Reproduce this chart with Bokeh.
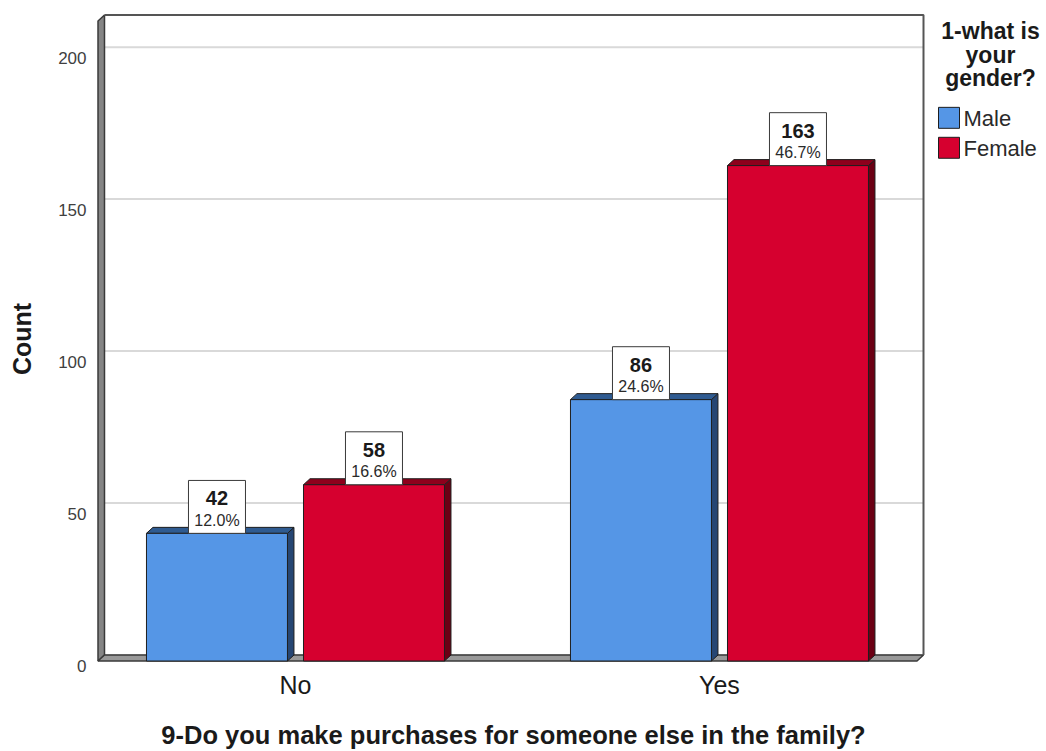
from bokeh.plotting import figure
from bokeh.layouts import row
from bokeh.models import Range1d, LinearAxis, FixedTicker
from bokeh.core.properties import value
from bokeh.embed import file_html
from bokeh.resources import INLINE

# ---- data -------------------------------------------------------------
categories = ["No", "Yes"]
genders = ["Male", "Female"]
male_counts = [42, 86]
female_counts = [58, 163]
y_ticks = [0, 50, 100, 150, 200]

x_title = "9-Do you make purchases for someone else in the family?"
y_title = "Count"
legend_title = ["1-what is", "your", "gender?"]

# ---- layout -----------------------------------------------------------
W, H = 1046, 751
CHART_W = 932                      # chart figure; the legend figure fills the rest
BORDER_L, BORDER_T, BORDER_B = 94, 10, 83
FRAME_W, FRAME_H = CHART_W - BORDER_L, H - BORDER_T - BORDER_B
PX_PER_CAT = 424.0      # pixels between the two category groups
PX_PER_COUNT = 3.044    # pixels per count unit
X0, Y0 = -0.474, -4.106
X1, Y1 = X0 + FRAME_W / PX_PER_CAT, Y0 + FRAME_H / PX_PER_COUNT


def px_x(px):
    """canvas column -> data x"""
    return X0 + (px - BORDER_L) / PX_PER_CAT


def px_y(py):
    """canvas row (from top) -> data y"""
    return Y1 - (py - BORDER_T) / PX_PER_COUNT


# 3-D depth of bars and chart box
DX = 6.5 / PX_PER_CAT
DY = 6.0 / PX_PER_COUNT
# back wall of the chart box
X_LEFT, X_RIGHT, Y_TOP = px_x(104), px_x(923), px_y(14.5)

BAR_W = 0.3325
HALF_GAP = 0.0189
BOX_W = 57 / PX_PER_CAT
BOX_H = 53 / PX_PER_COUNT

FONT = "Liberation Sans"
BLUE, BLUE_SIDE, BLUE_TOP = "#5596E6", "#264673", "#2F5B91"
RED, RED_SIDE, RED_TOP = "#D6002F", "#6B0014", "#8E001C"
EDGE = "#1E1E1E"
TEXT = "#1A1A1A"

p = figure(
    width=CHART_W, height=H,
    x_range=Range1d(X0, X1), y_range=Range1d(Y0, Y1),
    output_backend="svg", toolbar_location=None,
    y_axis_location=None, x_axis_location="below",
    min_border_left=BORDER_L, min_border_right=0,
    min_border_top=BORDER_T, min_border_bottom=BORDER_B,
    outline_line_color=None,
    background_fill_color="white", border_fill_color="white",
)
p.grid.visible = False

# ---- axes -------------------------------------------------------------
# tick labels sit a little below their grid lines (front plane of the box)
shift = 10.5 / PX_PER_COUNT
p.extra_y_ranges = {"ticks": Range1d(Y0 + shift, Y1 + shift)}
yaxis = LinearAxis(
    y_range_name="ticks",
    ticker=FixedTicker(ticks=y_ticks),
    axis_label=y_title,
    axis_line_color=None,
    major_tick_line_color=None, minor_tick_line_color=None,
    major_tick_out=0, major_tick_in=0, minor_tick_out=0,
    major_label_standoff=8,
    major_label_text_font=FONT, major_label_text_font_size="17px",
    major_label_text_color="#404040",
    axis_label_text_font=FONT, axis_label_text_font_size="25px",
    axis_label_text_font_style="bold", axis_label_text_color=TEXT,
    axis_label_standoff=19,
)
p.add_layout(yaxis, "left")

xaxis = p.xaxis[0]
xaxis.ticker = FixedTicker(ticks=list(range(len(categories))))
xaxis.major_label_overrides = {i: c for i, c in enumerate(categories)}
xaxis.axis_line_color = None
xaxis.major_tick_line_color = None
xaxis.minor_tick_line_color = None
xaxis.major_tick_out = 0
xaxis.major_tick_in = 0
xaxis.minor_tick_out = 0
xaxis.major_label_standoff = 3
xaxis.major_label_text_font = FONT
xaxis.major_label_text_font_size = "25px"
xaxis.major_label_text_color = TEXT
xaxis.axis_label = x_title
xaxis.axis_label_text_font = FONT
xaxis.axis_label_text_font_size = "25.5px"
xaxis.axis_label_text_font_style = "bold"
xaxis.axis_label_text_color = TEXT
xaxis.axis_label_standoff = 19

# ---- chart box: grid on the back wall, side wall and floor ------------
p.segment(x0=[X_LEFT] * len(y_ticks), x1=[X_RIGHT] * len(y_ticks),
          y0=y_ticks, y1=y_ticks, line_color="#D9D9D9", line_width=2)
p.patch([X_LEFT, X_LEFT, X_LEFT - DX, X_LEFT - DX],
        [0, Y_TOP, Y_TOP - DY, -DY],
        fill_color="#858585", line_color="#3A3A3A", line_width=1.5)
p.patch([X_LEFT, X_RIGHT, X_RIGHT - DX, X_LEFT - DX],
        [0, 0, -DY, -DY],
        fill_color="#999999", line_color="#3A3A3A", line_width=1.5)
p.line([X_LEFT, X_RIGHT, X_RIGHT], [Y_TOP, Y_TOP, 0],
       line_color="#555555", line_width=2)

# ---- 3-D bars ---------------------------------------------------------
total = sum(male_counts) + sum(female_counts)
series = [
    (male_counts, -HALF_GAP - BAR_W, BLUE, BLUE_SIDE, BLUE_TOP),
    (female_counts, HALF_GAP, RED, RED_SIDE, RED_TOP),
]
box_x, box_y, count_txt, pct_txt = [], [], [], []
for counts, offset, front, side, top in series:
    lefts = [i + offset for i in range(len(categories))]
    rights = [l + BAR_W for l in lefts]
    side_xs = [[r, r + DX, r + DX, r] for r in rights]
    side_ys = [[-DY, 0, v, v - DY] for v in counts]
    top_xs = [[l, l + DX, r + DX, r] for l, r in zip(lefts, rights)]
    top_ys = [[v - DY, v, v, v - DY] for v in counts]
    p.patches(side_xs, side_ys, fill_color=side, line_color=EDGE, line_width=1)
    p.patches(top_xs, top_ys, fill_color=top, line_color=EDGE, line_width=1)
    p.quad(left=lefts, right=rights, bottom=[-DY] * len(counts),
           top=[v - DY for v in counts],
           fill_color=front, line_color=EDGE, line_width=1)
    for l, r, v in zip(lefts, rights, counts):
        box_x.append((l + r) / 2)
        box_y.append(v - DY)
        count_txt.append(str(v))
        pct_txt.append(f"{100 * v / total:.1f}%")

# value labels: count and share of all respondents
p.quad(left=[x - BOX_W / 2 for x in box_x], right=[x + BOX_W / 2 for x in box_x],
       bottom=box_y, top=[y + BOX_H for y in box_y],
       fill_color="white", line_color="#3A3A3A", line_width=1)
p.text(x=box_x, y=box_y, text=count_txt, y_offset=-35,
       text_align="center", text_baseline="middle",
       text_font=value(FONT), text_font_size="20px", text_font_style="bold",
       text_color=TEXT)
p.text(x=box_x, y=box_y, text=pct_txt, y_offset=-13,
       text_align="center", text_baseline="middle",
       text_font=value(FONT), text_font_size="16px", text_color="#2A2A2A")

# ---- legend: a narrow companion figure in canvas-pixel coordinates ----
# (its frame is aligned with the chart frame by the row layout)
leg = figure(
    width=W - CHART_W, height=H,
    x_range=Range1d(CHART_W, W), y_range=Range1d(H - BORDER_B, BORDER_T),
    output_backend="svg", toolbar_location=None,
    x_axis_location=None, y_axis_location=None,
    min_border_left=0, min_border_right=0,
    min_border_top=BORDER_T, min_border_bottom=BORDER_B,
    outline_line_color=None,
    background_fill_color="white", border_fill_color="white",
)
leg.grid.visible = False
leg.text(x=[990] * 3, y=[30.5, 54.5, 77.5], text=legend_title,
         text_align="center", text_baseline="middle",
         text_font=value(FONT), text_font_size="23px", text_font_style="bold",
         text_color=TEXT)
sw_top = [107, 137]
leg.quad(left=[938] * 2, right=[959] * 2,
         top=sw_top, bottom=[t + 21 for t in sw_top],
         fill_color=[BLUE, RED], line_color=EDGE, line_width=1)
leg.text(x=[963] * 2, y=[t + 11 for t in sw_top], text=genders,
         text_align="left", text_baseline="middle",
         text_font=value(FONT), text_font_size="22px", text_color="#2A2A2A")

layout = row(p, leg, spacing=0)
open("out.html", "w").write(file_html(layout, INLINE))
